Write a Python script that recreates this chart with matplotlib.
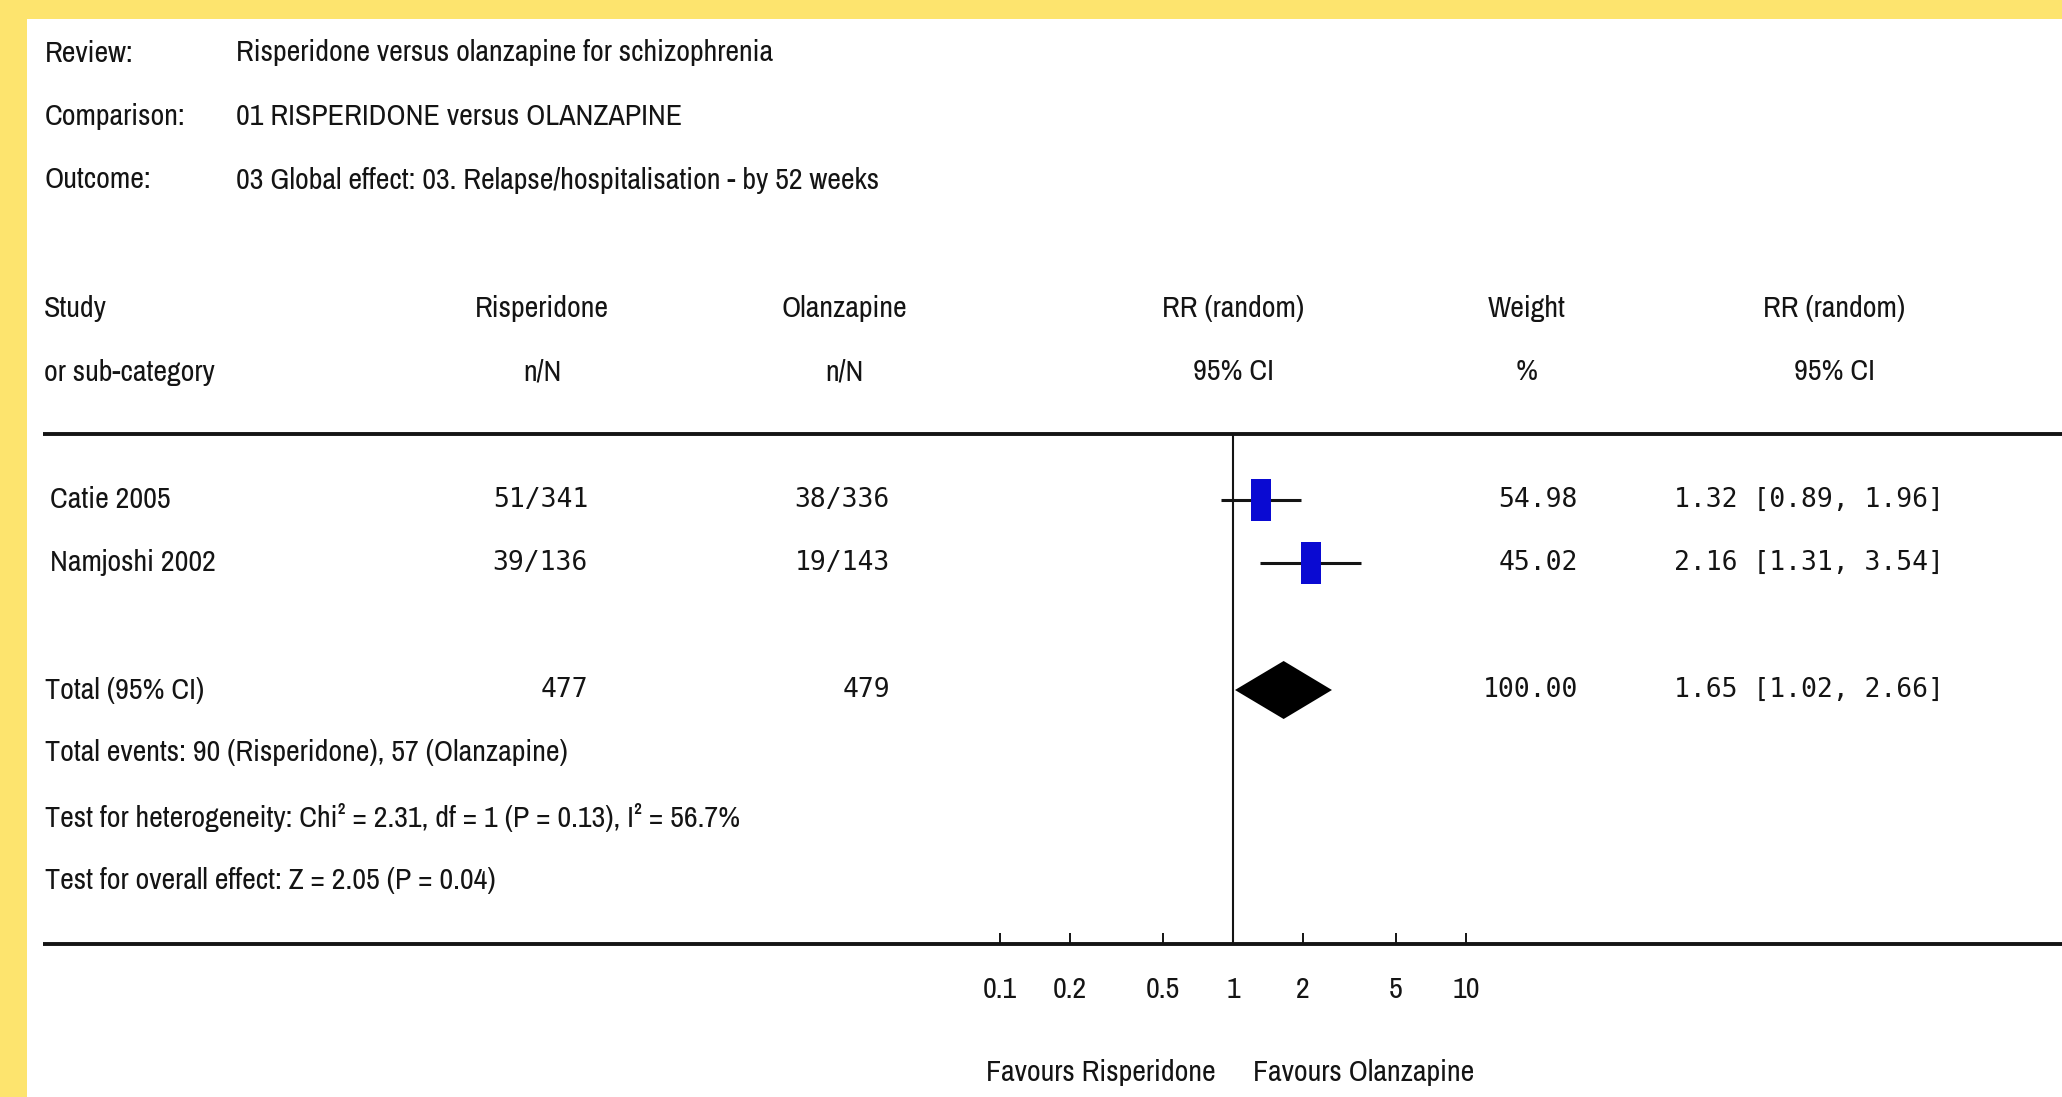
import matplotlib
matplotlib.use("Agg")
import matplotlib.pyplot as plt
from matplotlib import font_manager
from matplotlib.patches import Rectangle
from matplotlib.path import Path

# Study-level data
studies = ["Catie 2005", "Namjoshi 2002"]
risp_events = [51, 39]
risp_total = [341, 136]
olz_events = [38, 19]
olz_total = [336, 143]
rr = [1.32, 2.16]
ci_low = [0.89, 1.31]
ci_high = [1.96, 3.54]
weights = [54.98, 45.02]

# Pooled estimate (random effects)
pooled_rr = 1.65
pooled_low = 1.02
pooled_high = 2.66

tick_values = [0.1, 0.2, 0.5, 1, 2, 5, 10]
tick_labels = ["0.1", "0.2", "0.5", "1", "2", "5", "10"]

header_info = [
    ("Review:", "Risperidone versus olanzapine for schizophrenia"),
    ("Comparison:", "01 RISPERIDONE versus OLANZAPINE"),
    ("Outcome:", "03 Global effect: 03. Relapse/hospitalisation - by 52 weeks"),
]
heterogeneity_text = "Test for heterogeneity: Chi\u00b2 = 2.31, df = 1 (P = 0.13), I\u00b2 = 56.7%"
overall_text = "Test for overall effect: Z = 2.05 (P = 0.04)"

W, H = 2062, 1097
INK = "#141414"
MONO = ["DejaVu Sans Mono"]
MONO_SIZE = 19


def pick_narrow_font():
    # prefer a narrow/condensed sans if the system has one
    condensed = ("condensed", "semi-condensed", "extra-condensed", "ultra-condensed")
    for f in font_manager.fontManager.ttflist:
        if ("Narrow" in f.name or "Condensed" in f.name) and "Mono" not in f.name:
            return [f.name, "Liberation Sans"], "normal", 21.6
    for f in font_manager.fontManager.ttflist:
        if f.stretch in condensed and f.style == "normal" and "Mono" not in f.name:
            return [f.name, "Liberation Sans"], "condensed", 21.6
    return ["Liberation Sans", "DejaVu Sans"], "normal", 18.3


SANS, SANS_STRETCH, SANS_SIZE = pick_narrow_font()

fig = plt.figure(figsize=(W / 100, H / 100), dpi=100)
fig.patch.set_facecolor("#fde46e")

# pixel-space canvas for the table
bg = fig.add_axes([0, 0, 1, 1])
bg.set_xlim(0, W)
bg.set_ylim(H, 0)
bg.axis("off")
bg.patch.set_alpha(0)
bg.add_patch(Rectangle((27, 19), W - 27, H - 19, facecolor="white", edgecolor="none"))


def sans(x, y, s, ha="left"):
    bg.text(x, y, s, ha=ha, va="center", family=SANS, fontstretch=SANS_STRETCH,
            fontsize=SANS_SIZE, color=INK)


def mono(x, y, s, ha="left"):
    bg.text(x, y, s, ha=ha, va="center", family=MONO, fontsize=MONO_SIZE, color=INK)


# review / comparison / outcome block
for i, (label, value) in enumerate(header_info):
    y = 53 + i * 63.5
    sans(45, y, label)
    sans(236, y, value)

# column headers
sans(44, 309, "Study")
sans(44, 372, "or sub-category")
for cx, top, bottom in [
    (542, "Risperidone", "n/N"),
    (844, "Olanzapine", "n/N"),
    (1233, "RR (random)", "95% CI"),
    (1527, "Weight", "%"),
    (1834, "RR (random)", "95% CI"),
]:
    sans(cx, 309, top, ha="center")
    sans(cx, 372, bottom, ha="center")

# horizontal rules
for y in (434, 944):
    bg.plot([43, W], [y, y], color=INK, lw=2.8, solid_capstyle="butt")

row_y = [500, 563]
total_y = 690
for i, name in enumerate(studies):
    y = row_y[i]
    sans(50, y, name)
    mono(588, y, f"{risp_events[i]}/{risp_total[i]}", ha="right")
    mono(890, y, f"{olz_events[i]}/{olz_total[i]}", ha="right")
    mono(1578, y, f"{weights[i]:.2f}", ha="right")
    mono(1674, y, f"{rr[i]:.2f} [{ci_low[i]:.2f}, {ci_high[i]:.2f}]")

sans(45, total_y, "Total (95% CI)")
mono(588, total_y, f"{sum(risp_total)}", ha="right")
mono(890, total_y, f"{sum(olz_total)}", ha="right")
mono(1578, total_y, f"{sum(weights):.2f}", ha="right")
mono(1674, total_y, f"{pooled_rr:.2f} [{pooled_low:.2f}, {pooled_high:.2f}]")

sans(45, 753, f"Total events: {sum(risp_events)} (Risperidone), {sum(olz_events)} (Olanzapine)")
sans(45, 817, heterogeneity_text)
sans(45, 880, overall_text)

# forest panel: log x, y kept in pixel rows
x0, x1 = 930, 1536
y0, y1 = 434, 944
ax = fig.add_axes([x0 / W, 1 - y1 / H, (x1 - x0) / W, (y1 - y0) / H])
ax.set_xscale("log")
ax.set_xlim(0.05, 20)
ax.set_ylim(y1, y0)
ax.patch.set_alpha(0)
for side in ("top", "right", "left", "bottom"):
    ax.spines[side].set_visible(False)
ax.set_yticks([])
ax.minorticks_off()
ax.set_xticks(tick_values)
ax.set_xticklabels(tick_labels, family=SANS, fontstretch=SANS_STRETCH,
                   fontsize=SANS_SIZE, color=INK)
ax.tick_params(axis="x", direction="in", length=8, width=1.4, color=INK, pad=23)

ax.plot([1, 1], [y0, y1], color=INK, lw=1.5)

box = Path([(-0.24, -0.5), (0.24, -0.5), (0.24, 0.5), (-0.24, 0.5), (-0.24, -0.5)],
           [Path.MOVETO, Path.LINETO, Path.LINETO, Path.LINETO, Path.CLOSEPOLY])
for i in range(len(studies)):
    ax.plot([ci_low[i], ci_high[i]], [row_y[i], row_y[i]], color=INK, lw=2.2,
            solid_capstyle="butt", zorder=2)
    ax.plot(rr[i], row_y[i], marker=box, markersize=30, color="#0a0ad2",
            markeredgewidth=0, zorder=3)

half_h = 29
ax.fill([pooled_low, pooled_rr, pooled_high, pooled_rr],
        [total_y, total_y - half_h, total_y, total_y + half_h],
        color="black", lw=0, zorder=3)

fig.text(1216 / W, 1 - 1072 / H, "Favours Risperidone", ha="right", va="center",
         family=SANS, fontstretch=SANS_STRETCH, fontsize=SANS_SIZE, color=INK)
fig.text(1253 / W, 1 - 1072 / H, "Favours Olanzapine", ha="left", va="center",
         family=SANS, fontstretch=SANS_STRETCH, fontsize=SANS_SIZE, color=INK)

fig.savefig("out.png", dpi=100, facecolor=fig.get_facecolor())
